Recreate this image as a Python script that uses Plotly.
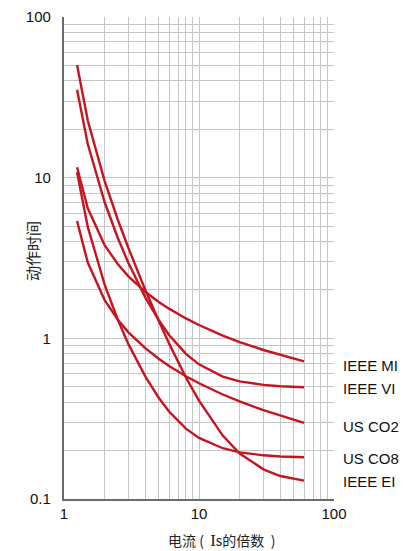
import plotly.graph_objects as go

# Multiples of pickup current (x) and operating time in seconds (y)
current_multiple = [1.25, 1.5, 2, 2.5, 3, 4, 5, 6, 8, 10, 15, 20, 30, 40, 60]

ieee_ei = [50.3, 22.7, 9.52, 5.49, 3.65, 2.00, 1.30, 0.93, 0.57, 0.41, 0.248, 0.192, 0.153, 0.139, 0.130]
ieee_vi = [35.3, 16.2, 7.03, 4.23, 2.94, 1.80, 1.31, 1.05, 0.80, 0.689, 0.578, 0.540, 0.513, 0.503, 0.496]
us_co8 = [10.8, 4.94, 2.16, 1.31, 0.92, 0.58, 0.43, 0.35, 0.274, 0.240, 0.207, 0.195, 0.187, 0.184, 0.182]
ieee_mi = [11.6, 6.44, 3.80, 2.90, 2.43, 1.95, 1.69, 1.53, 1.33, 1.21, 1.04, 0.948, 0.846, 0.787, 0.718]
us_co2 = [5.37, 2.96, 1.73, 1.31, 1.09, 0.868, 0.749, 0.673, 0.581, 0.525, 0.447, 0.405, 0.357, 0.330, 0.298]

series_names = ["IEEE EI", "IEEE VI", "US CO8", "IEEE MI", "US CO2"]
series_values = [ieee_ei, ieee_vi, us_co8, ieee_mi, us_co2]

# Right-side labels, top to bottom
label_order = ["IEEE MI", "IEEE VI", "US CO2", "US CO8", "IEEE EI"]

x_ticks = [1, 10, 100]
x_tick_text = ["1", "10", "100"]
y_ticks = [0.1, 1, 10, 100]
y_tick_text = ["0.1", "1", "10", "100"]

RED = "#c8141e"
GRID = "#c6c6c6"
AXIS = "#6b6b6b"
LATIN = "Liberation Sans, Arial, Helvetica, sans-serif"
CJK = "Noto Sans CJK SC, sans-serif"

fig = go.Figure()
for name, vals in zip(series_names, series_values):
    fig.add_trace(go.Scatter(x=current_multiple, y=vals, mode="lines", name=name,
                             line=dict(color=RED, width=2.4), hoverinfo="x+y+name"))

x_minor = [m * d for d in (1, 10) for m in range(2, 10)]
y_minor = [m * d for d in (0.1, 1, 10) for m in range(2, 10)]

fig.update_xaxes(type="log", range=[0, 2], tickvals=x_ticks, ticktext=x_tick_text,
                 showgrid=True, gridcolor=GRID, gridwidth=1.4,
                 minor=dict(tickvals=x_minor, showgrid=True, gridcolor=GRID, gridwidth=1.4, ticks=""),
                 showline=True, linecolor=AXIS, linewidth=2.2, ticks="", zeroline=False,
                 automargin=False,
                 tickfont=dict(family=LATIN, size=15, color="#111"))
fig.update_yaxes(type="log", range=[-1, 2], tickvals=y_ticks, ticktext=y_tick_text,
                 showgrid=True, gridcolor=GRID, gridwidth=1.4,
                 minor=dict(tickvals=y_minor, showgrid=True, gridcolor=GRID, gridwidth=1.4, ticks=""),
                 showline=True, linecolor=AXIS, linewidth=2.2, ticks="", zeroline=False,
                 ticklabelstandoff=8, automargin=False,
                 tickfont=dict(family=LATIN, size=15, color="#111"))

annotations = []
label_y_px = {"IEEE MI": 365, "IEEE VI": 388, "US CO2": 426, "US CO8": 458, "IEEE EI": 481}
for lab in label_order:
    annotations.append(dict(text=lab, xref="paper", yref="paper",
                            x=(341 - 64) / 270, y=(499 - label_y_px[lab]) / 482,
                            xanchor="left", yanchor="middle", showarrow=False,
                            font=dict(family=LATIN, size=15, color="#111")))

annotations.append(dict(text="动作时间", xref="paper", yref="paper",
                        x=(32 - 64) / 270, y=(499 - 251) / 482, textangle=-90,
                        xanchor="center", yanchor="middle", showarrow=False,
                        font=dict(family=CJK, size=15, color="#222")))
annotations.append(dict(text="电流&nbsp;(&nbsp;&nbsp;<span style=\"font-family:Liberation Serif, serif;font-size:17px\">I</span>s的倍数&nbsp;&nbsp;)",
                        xref="paper", yref="paper",
                        x=(221 - 64) / 270, y=(499 - 540) / 482,
                        xanchor="center", yanchor="middle", showarrow=False,
                        font=dict(family=CJK, size=14, color="#222")))

fig.update_layout(width=417, height=551, autosize=False,
                  margin=dict(l=64, r=83, t=17, b=52, pad=0),
                  plot_bgcolor="white", paper_bgcolor="white", showlegend=False,
                  annotations=annotations)

fig.write_html("out.html", config={"displayModeBar": False},
               post_script="document.body.style.margin='0';document.body.style.overflow='hidden';")
